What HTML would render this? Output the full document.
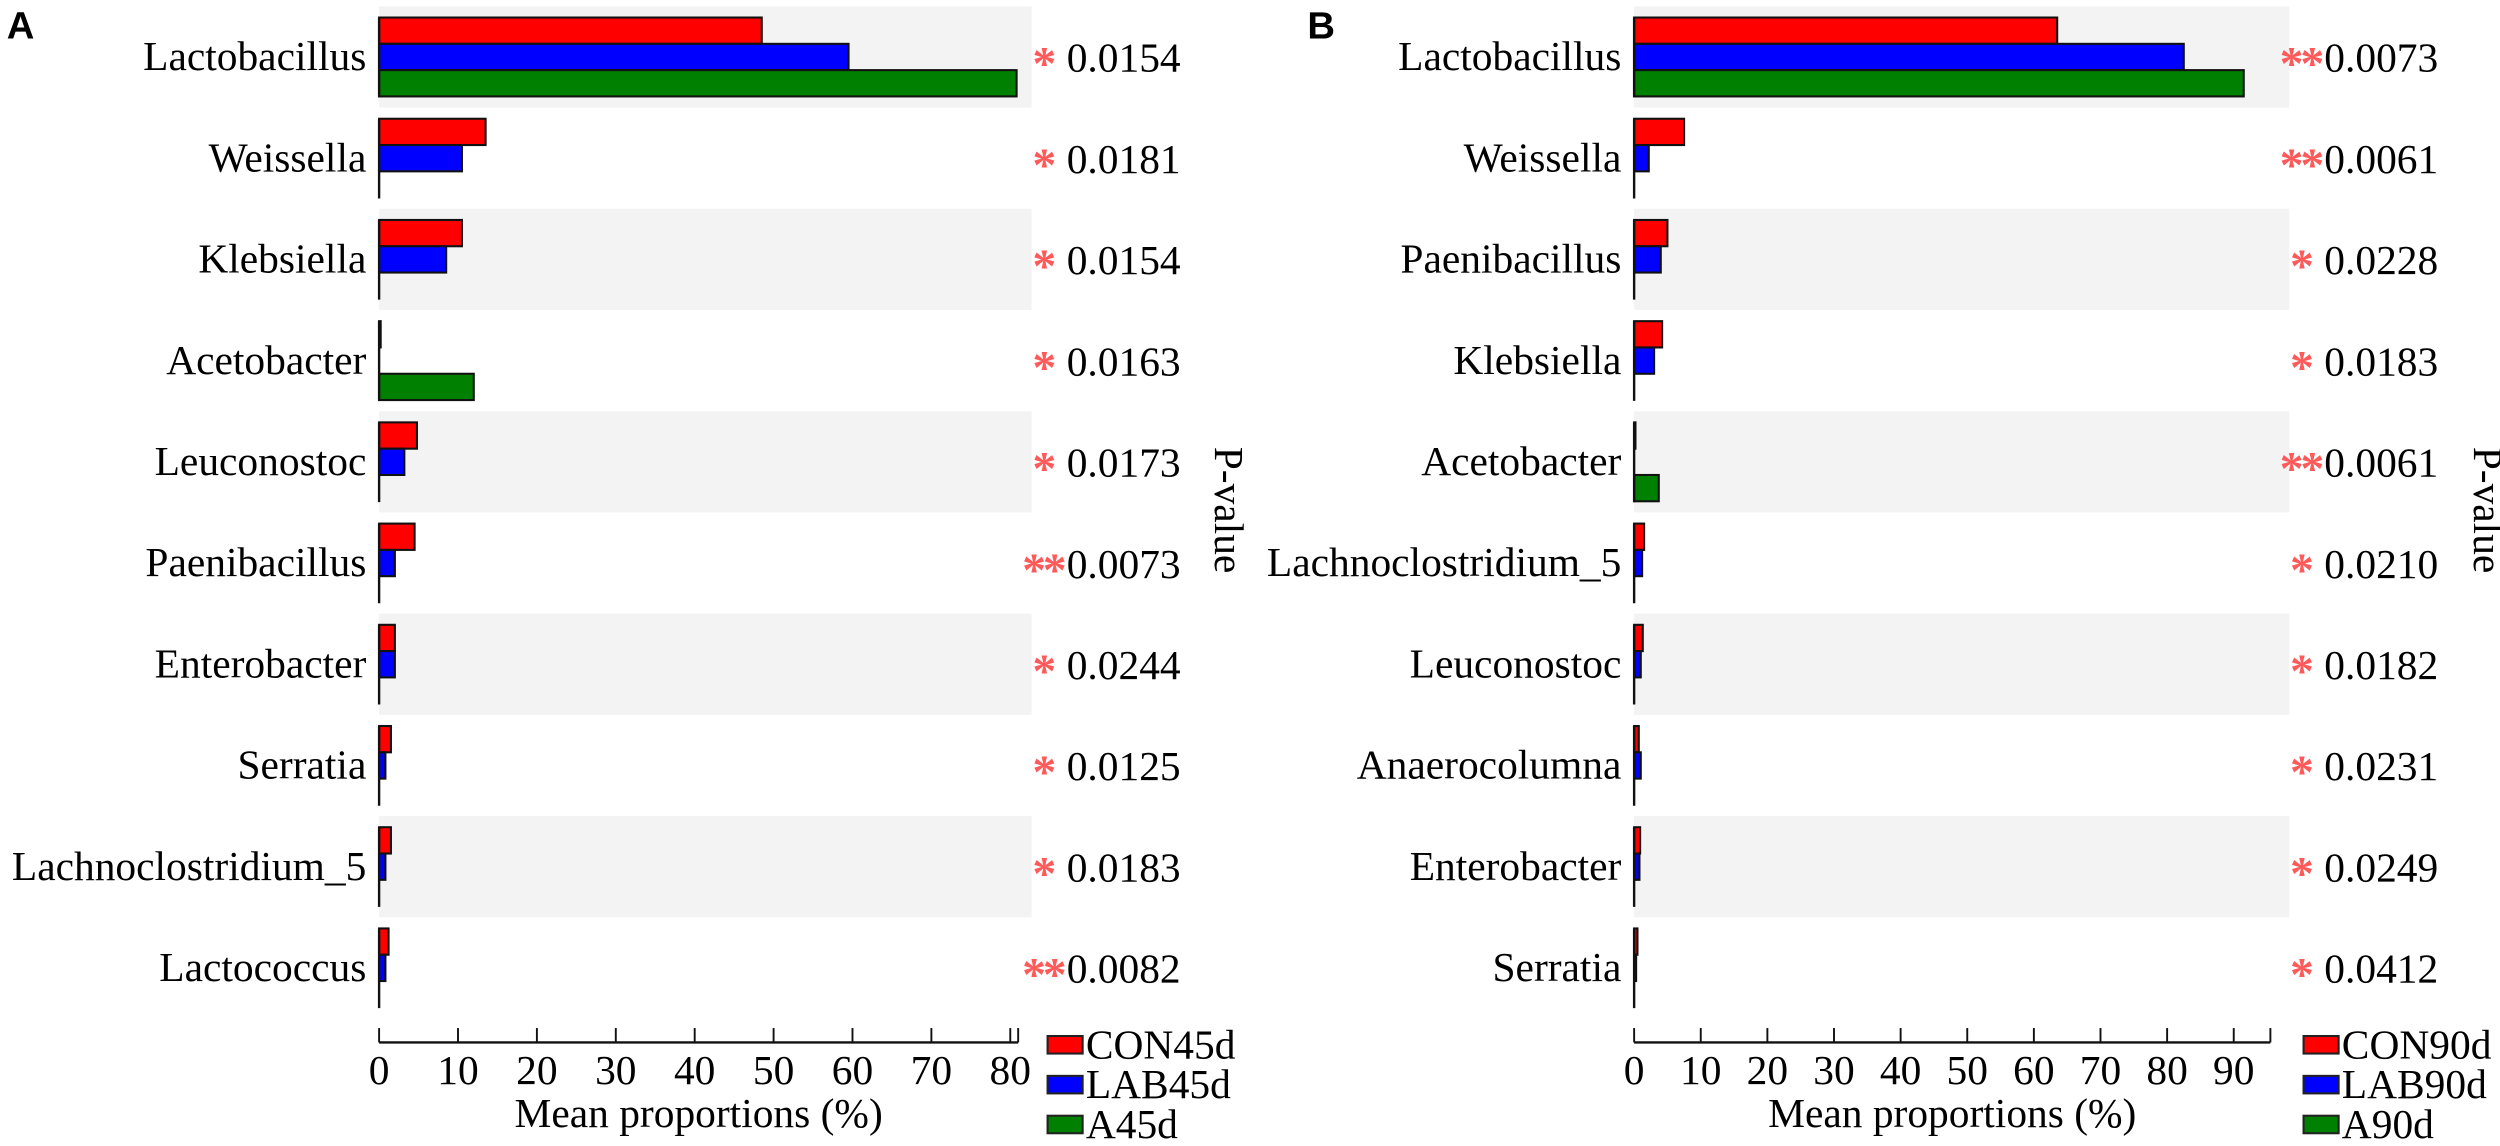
<!DOCTYPE html>
<html><head><meta charset="utf-8"><style>
html,body{margin:0;padding:0;background:#fff}
svg{display:block}
svg text{font-family:"Liberation Serif","Times New Roman",serif;fill:#000}
svg text.sans{font-family:"Liberation Sans",Arial,sans-serif}
</style></head><body>
<svg id="chart" width="2500" height="1146" viewBox="0 0 1568 719"></svg>
<script>
const catsA=["Lactobacillus","Weissella","Klebsiella","Acetobacter","Leuconostoc","Paenibacillus","Enterobacter","Serratia","Lachnoclostridium_5","Lactococcus"];
const conA=[48.5,13.5,10.5,0.2,4.8,4.5,2.0,1.5,1.5,1.2];
const labA=[59.5,10.5,8.5,0,3.2,2.0,2.0,0.8,0.8,0.8];
const aA=[80.8,0,0,12,0,0,0,0,0,0];
const pA=["0.0154","0.0181","0.0154","0.0163","0.0173","0.0073","0.0244","0.0125","0.0183","0.0082"];
const starA=["*","*","*","*","*","**","*","*","*","**"];
const ticksA=[0,10,20,30,40,50,60,70,80];
const legA=["CON45d","LAB45d","A45d"];

const catsB=["Lactobacillus","Weissella","Paenibacillus","Klebsiella","Acetobacter","Lachnoclostridium_5","Leuconostoc","Anaerocolumna","Enterobacter","Serratia"];
const conB=[63.5,7.5,5.0,4.2,0.2,1.5,1.3,0.7,0.9,0.5];
const labB=[82.5,2.2,4.0,3.0,0,1.2,1.0,1.0,0.8,0.3];
const aB=[91.5,0,0,0,3.7,0,0,0,0,0];
const pB=["0.0073","0.0061","0.0228","0.0183","0.0061","0.0210","0.0182","0.0231","0.0249","0.0412"];
const starB=["**","**","*","*","**","*","*","*","*","*"];
const ticksB=[0,10,20,30,40,50,60,70,80,90];
const legB=["CON90d","LAB90d","A90d"];

const NS="http://www.w3.org/2000/svg";
const svg=document.getElementById('chart');
function mk(tag,attrs,parent,txt){const e=document.createElementNS(NS,tag);for(const k in attrs)e.setAttribute(k,attrs[k]);if(txt!==undefined)e.textContent=txt;(parent||svg).appendChild(e);return e;}
const colors=["#ff0000","#0000ff","#008000"];

function panel(o){
  const g=mk('g',{});
  
  
  const x=v=>o.x0+v*o.pxPer;
  const rowTop=i=>4+i*63.5;
  o.cats.forEach((c,i)=>{
    const t=rowTop(i);
    if(i%2===0){const r=mk('rect',{x:o.x0,y:t,width:o.bandEnd-o.x0,height:63.5,fill:'#f3f3f3'},g);
      
      }
    const lab=mk('text',{x:o.x0-8,y:t+40,'font-size':26,'text-anchor':'end'},g,c);
    
    
    [o.con,o.lab,o.a].forEach((arr,s)=>{
      const v=arr[i];
      if(v>0){const b=mk('rect',{x:x(0),y:t+7+s*16.5,width:x(v)-x(0),height:16.5,fill:colors[s],stroke:'#111','stroke-width':1.3},g);
        
        }
    });
    mk('line',{x1:x(0),x2:x(0),y1:t+7,y2:t+57,stroke:'#111','stroke-width':1.5},g);
    const st=mk('text',{x:o.starX,y:t+46,'font-size':30,'font-weight':'bold','text-anchor':'middle',style:'fill:#ff5a5a','letter-spacing':'-2'},g,o.stars[i]);
    
    
    const pv=mk('text',{x:o.starX+15,y:t+41,'font-size':26},g,o.p[i]);
    
    
  });
  const axY=654;
  const ax=mk('line',{x1:x(0),x2:x(o.axMax),y1:axY,y2:axY,stroke:'#111','stroke-width':1.5},g);
  
  
  mk('line',{x1:x(o.axMax),x2:x(o.axMax),y1:axY-9,y2:axY,stroke:'#111','stroke-width':1.2},g);
  o.ticks.forEach(tv=>{
    mk('line',{x1:x(tv),x2:x(tv),y1:axY-9,y2:axY,stroke:'#111','stroke-width':1.2},g);
    const tl=mk('text',{x:x(tv),y:axY+26,'font-size':26,'text-anchor':'middle'},g,tv);
    
    
  });
  const tt=mk('text',{x:(x(0)+x(o.axMax))/2,y:axY+53,'font-size':26,'text-anchor':'middle'},g,'Mean proportions (%)');
  
  
  const pt=mk('text',{x:o.pLabX,y:320,'font-size':26,'text-anchor':'middle',transform:`rotate(90 ${o.pLabX} 320)`},g,'P-value');
  
  
  o.leg.forEach((l,k)=>{
    const yy=650+k*25;
    const lr=mk('rect',{x:o.legX,y:yy,width:22,height:11,fill:colors[k],stroke:'#222','stroke-width':1.3},g);
    
    
    const lt=mk('text',{x:o.legX+24,y:yy+14,'font-size':26},g,l);
    
    
  });
  const pl=mk('text',{x:o.letterX,y:24,'font-size':24,'font-weight':'bold','class':'sans'},g,o.letter);
  
  
}
panel({name:'panel-a',cats:catsA,con:conA,lab:labA,a:aA,p:pA,stars:starA,ticks:ticksA,leg:legA,
  x0:237.6,pxPer:4.95,axMax:81,bandEnd:647,starX:654,pLabX:762,legX:657,letter:'A',letterX:4});
panel({name:'panel-b',cats:catsB,con:conB,lab:labB,a:aB,p:pB,stars:starB,ticks:ticksB,leg:legB,
  x0:1025,pxPer:4.18,axMax:95.5,bandEnd:1436,starX:1443,pLabX:1552,legX:1445,letter:'B',letterX:820});
</script>
</body></html>
